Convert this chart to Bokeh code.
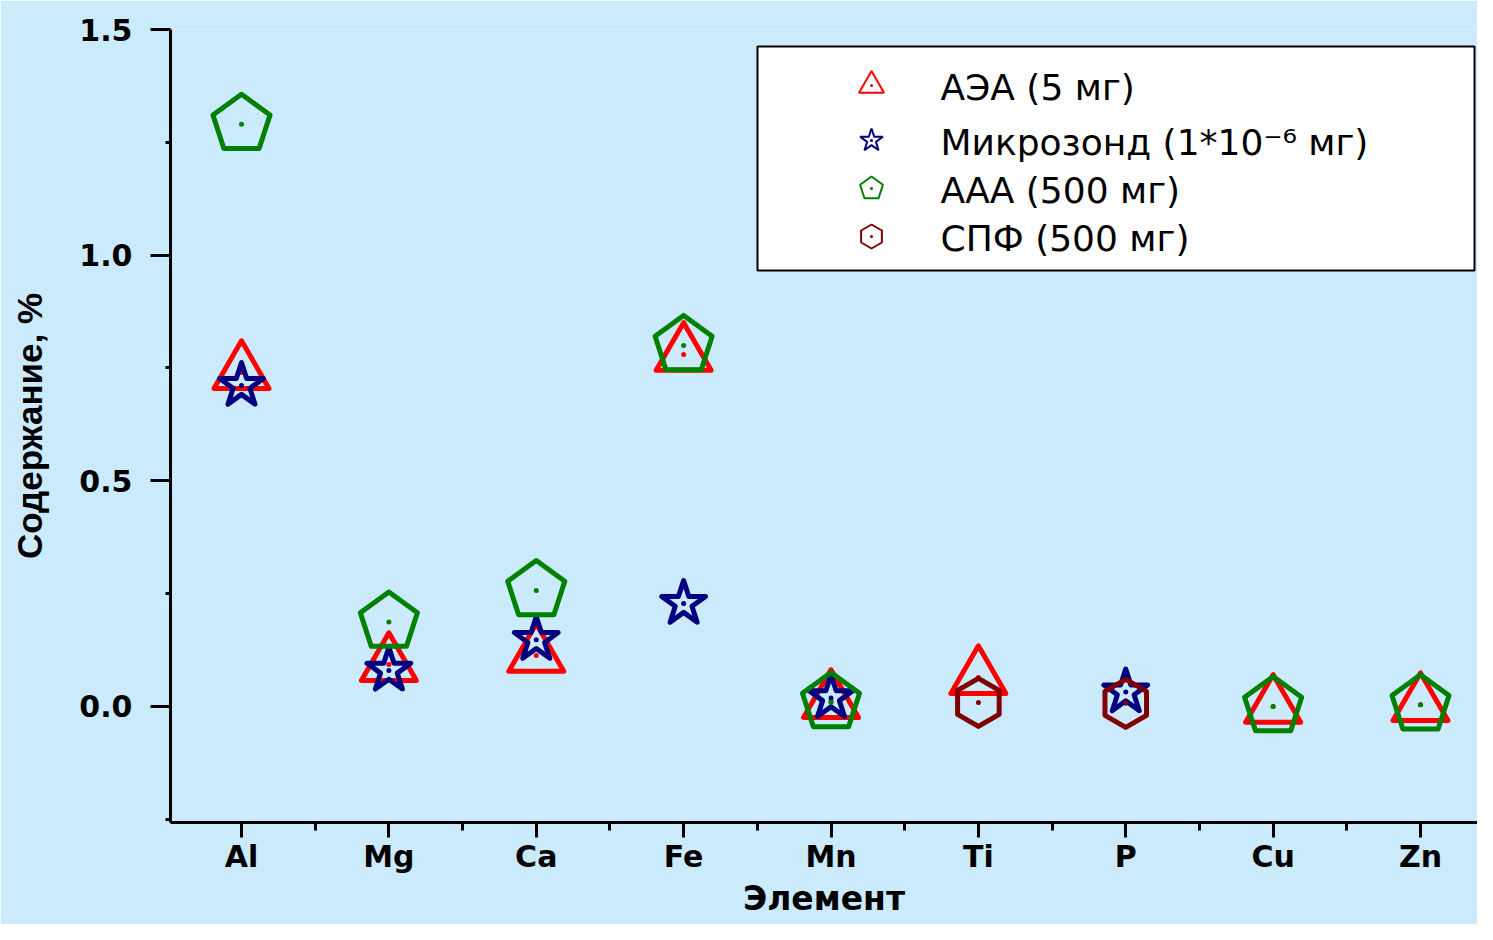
import math
from bokeh.plotting import figure
from bokeh.models import Range1d, FixedTicker, ColumnDataSource
from bokeh.core.properties import value
from bokeh.embed import file_html
from bokeh.resources import INLINE

nan = float("nan")

# ---- data ----
elements = ["Al", "Mg", "Ca", "Fe", "Mn", "Ti", "P", "Cu", "Zn"]
aea = [0.740, 0.093, 0.113, 0.780, 0.011, 0.064, nan, 0.000, 0.004]      # АЭА (5 мг)
micro = [0.711, 0.080, 0.148, 0.228, 0.019, nan, 0.032, nan, nan]        # Микрозонд
aaa = [1.290, 0.187, 0.257, 0.800, 0.009, nan, nan, 0.000, 0.004]        # ААА (500 мг)
spf = [nan, nan, nan, nan, nan, 0.009, 0.007, nan, nan]                  # СПФ (500 мг)
series_labels = ["АЭА (5 мг)", "Микрозонд (1*10⁻⁶ мг)", "ААА (500 мг)", "СПФ (500 мг)"]
y_ticks = [0.0, 0.5, 1.0, 1.5]
y_minor = [-0.25, 0.25, 0.75, 1.25]
x_title = "Элемент"
y_title = "Содержание, %"

xs = list(range(1, len(elements) + 1))

BG = "#cbeafc"
RED, NAVY, GREEN, BROWN = "#ff0000", "#000080", "#008000", "#800000"

# ---- layout ----
W, H = 1477, 924
ML, MT, MR, MB = 170, 29, 0, 102
FW, FH = W - ML - MR, H - MT - MB
PX_PER_CAT = 147.375
PX_PER_UNIT = 451.33
x0 = 1 - 71 / PX_PER_CAT
x1 = x0 + FW / PX_PER_CAT
y1 = 1.5
y0 = y1 - FH / PX_PER_UNIT

p = figure(width=W, height=H, output_backend="svg", toolbar_location=None,
           x_range=Range1d(x0, x1), y_range=Range1d(y0, y1),
           min_border_left=ML, min_border_top=MT, min_border_right=MR, min_border_bottom=MB)
p.background_fill_color = BG
p.border_fill_color = BG
p.outline_line_color = None
p.grid.visible = False

# axes
xa = p.xaxis[0]
xa.ticker = FixedTicker(ticks=xs, minor_ticks=[x + 0.5 for x in range(0, len(elements) + 1)])
xa.major_label_overrides = {i + 1: e for i, e in enumerate(elements)}
ya = p.yaxis[0]
ya.ticker = FixedTicker(ticks=y_ticks, minor_ticks=y_minor)
ya.major_label_overrides = {0: "0.0", 0.5: "0.5", 1: "1.0", 1.5: "1.5"}

for ax in (xa, ya):
    ax.axis_line_width = 3
    ax.axis_line_color = "black"
    ax.major_tick_line_width = 3
    ax.minor_tick_line_width = 3
    ax.major_tick_in = 0
    ax.minor_tick_in = 0
    ax.major_label_text_font = "DejaVu Sans"
    ax.major_label_text_font_style = "bold"
    ax.major_label_text_color = "black"
    ax.axis_label_text_color = "black"
    ax.axis_label_text_font_style = "bold"

ya.major_tick_out = 20
ya.minor_tick_out = 5
ya.major_label_text_font_size = "30px"
ya.major_label_standoff = 18
ya.axis_label = y_title
ya.axis_label_text_font = "Liberation Sans"
ya.axis_label_text_font_size = "35px"
ya.axis_label_standoff = 27

xa.major_tick_out = 15
xa.minor_tick_out = 8
xa.major_label_text_font_size = "30px"
xa.major_label_standoff = 1
xa.axis_label = x_title
xa.axis_label_text_font = "DejaVu Sans"
xa.axis_label_text_font_size = "33px"
xa.axis_label_standoff = 2

src = ColumnDataSource(dict(x=xs, aea=aea, micro=micro, aaa=aaa, spf=spf))

LW = 5
p.scatter("x", "aea", source=src, marker="triangle", size=55, fill_color=None,
          line_color=RED, line_width=LW, line_join="round")
p.scatter("x", "aea", source=src, marker="circle", size=5, fill_color=RED, line_color=None)
p.scatter("x", "micro", source=src, marker="star", size=46, fill_color=None,
          line_color=NAVY, line_width=LW, line_join="round")
p.scatter("x", "micro", source=src, marker="circle", size=5, fill_color=NAVY, line_color=None)
p.ngon(x="x", y="aaa", source=src, radius=30, radius_units="screen", n=5, angle=0,
       fill_color=None, line_color=GREEN, line_width=LW, line_join="round")
p.scatter("x", "aaa", source=src, marker="circle", size=5, fill_color=GREEN, line_color=None)
p.scatter("x", "spf", source=src, marker="hex", size=48, angle=math.pi / 2, fill_color=None,
          line_color=BROWN, line_width=LW, line_join="round")
p.scatter("x", "spf", source=src, marker="circle", size=5, fill_color=BROWN, line_color=None)

# ---- legend (drawn in frame pixel coordinates) ----
p.extra_x_ranges = {"px": Range1d(0, FW)}
p.extra_y_ranges = {"py": Range1d(FH, 0)}
box_l, box_t, box_r, box_b = 587, 17, FW - 3, 241
p.quad(left=[box_l], right=[box_r], top=[box_t], bottom=[box_b], x_range_name="px", y_range_name="py",
       fill_color="white", line_color="black", line_width=2)
icon_x = 701
text_x = 770
rows = [56, 111, 159, 207]
lw2 = 2
p.scatter([icon_x], [rows[0]], x_range_name="px", y_range_name="py", marker="triangle", size=25,
          fill_color=None, line_color=RED, line_width=lw2)
p.scatter([icon_x], [rows[1]], x_range_name="px", y_range_name="py", marker="star", size=24,
          fill_color=None, line_color=NAVY, line_width=lw2)
p.ngon(x=[icon_x], y=[rows[2]], x_range_name="px", y_range_name="py", radius=12, radius_units="screen",
       n=5, angle=0, fill_color=None, line_color=GREEN, line_width=lw2)
p.scatter([icon_x], [rows[3]], x_range_name="px", y_range_name="py", marker="hex", size=24,
          angle=math.pi / 2, fill_color=None, line_color=BROWN, line_width=lw2)
dot_colors = [RED, NAVY, GREEN, BROWN]
p.scatter([icon_x] * 4, rows, x_range_name="px", y_range_name="py", marker="circle", size=3,
          fill_color=dot_colors, line_color=None)
p.text(x=[text_x] * 4, y=[r + 2 for r in rows], text=series_labels, x_range_name="px", y_range_name="py",
       text_font=value("DejaVu Sans"), text_font_size="36px", text_baseline="middle",
       text_align="left", text_color="black")

open("out.html", "w").write(file_html(p, INLINE))
